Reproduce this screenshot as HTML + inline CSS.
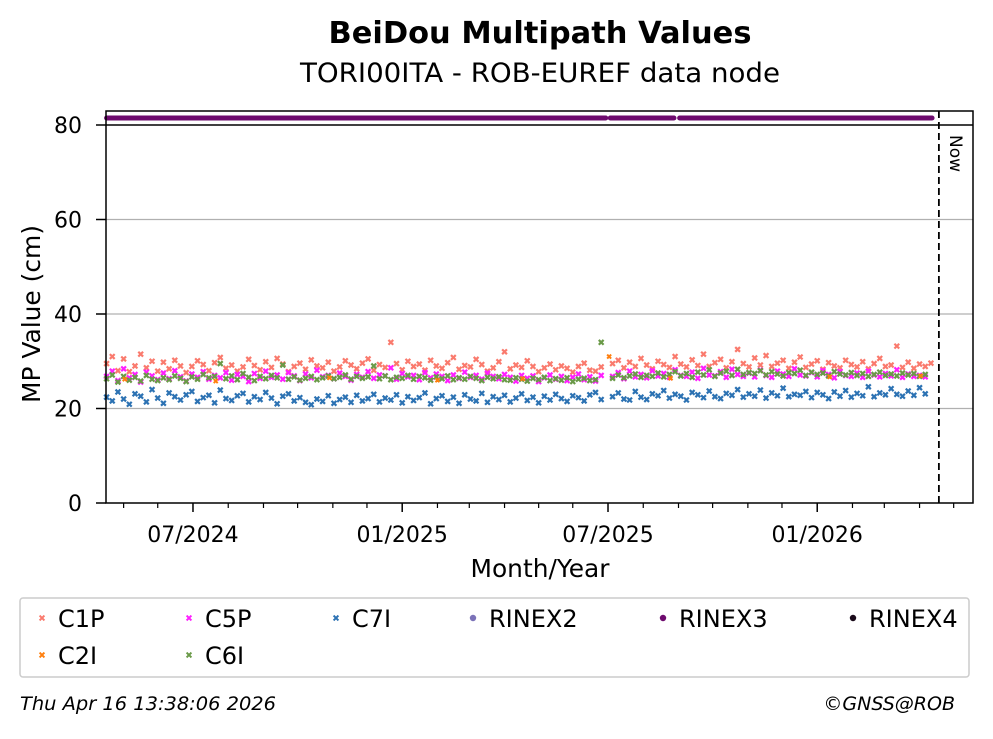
<!DOCTYPE html>
<html><head><meta charset="utf-8"><style>
body{margin:0;background:#fff;font-family:"Liberation Sans","DejaVu Sans",sans-serif}
svg text{font-family:"DejaVu Sans","Liberation Sans",sans-serif}
</style></head><body>
<svg id="chart" width="993" height="734" viewBox="0 0 993 734" xmlns="http://www.w3.org/2000/svg">
<rect width="993" height="734" fill="#fff"/>
<text x="540" y="43" text-anchor="middle" font-size="30" font-weight="bold" textLength="423" lengthAdjust="spacingAndGlyphs">BeiDou Multipath Values</text>
<text x="540" y="82" text-anchor="middle" font-size="27" textLength="480" lengthAdjust="spacingAndGlyphs">TORI00ITA - ROB-EUREF data node</text>
<g id="grid"></g>
<g id="marks"></g>
<rect x="106" y="111" width="867" height="392" fill="none" stroke="#000" stroke-width="1.5"/>
<line x1="106" y1="125" x2="973" y2="125" stroke="#000" stroke-width="1.5"/>
<g id="axes"></g>
<text transform="translate(40,314) rotate(-90)" text-anchor="middle" font-size="25" textLength="178" lengthAdjust="spacingAndGlyphs">MP Value (cm)</text>
<text x="540" y="577" text-anchor="middle" font-size="25" textLength="139" lengthAdjust="spacingAndGlyphs">Month/Year</text>
<rect x="20" y="598" width="949" height="79" rx="3" fill="#fff" stroke="#ccc" stroke-width="1.5"/>
<g id="legend"></g>
<text x="20" y="710" font-size="19" font-style="italic" textLength="256" lengthAdjust="spacingAndGlyphs">Thu Apr 16 13:38:06 2026</text>
<text x="955" y="710" text-anchor="end" font-size="19" font-style="italic">©GNSS@ROB</text>
</svg>
<script>
// days relative to 2024-07-01; first sample at startDay, then every stepDays
const startDay = -76;
const stepDays = 5;
const c1p = [29.5,31,28,30.5,27.8,29,31.5,28.6,30,27.9,29.8,28.4,30.2,29,27.6,28.9,30.1,29.3,28,29.7,30.8,28.5,29.2,27.9,28.8,30.4,29.1,28.2,29.9,28.7,30.6,29.4,27.8,28.9,29.6,28.3,30.3,29,28.6,29.8,27.9,28.8,30.1,29.2,28.4,29.6,30.5,28.1,29.3,28.7,34,29.5,28.2,30,28.9,29.4,28.1,30.2,29,28.5,29.7,30.8,28.3,29.1,28.8,30.4,29.3,27.9,28.6,29.9,32,28.4,29.2,28.7,30.1,28.9,27.8,28.6,29.4,28.2,29,28.5,27.7,28.9,29.6,28.1,27.9,28.8,null,29.5,30.2,28.6,29.8,28.9,30.6,29.2,28.4,30,29.3,28.7,31,29.4,28.8,30.3,29.1,31.5,28.9,29.7,30.4,28.6,29.9,32.5,29.5,28.8,30.7,29.2,31.2,28.9,29.6,30.2,28.5,29.8,30.9,28.7,29.4,30.1,28.3,29.7,29,28.6,30.2,29.3,28.8,29.9,28.4,29.5,30.6,28.9,29.2,33.2,28.7,29.8,28.5,29.4,28.9,29.6];
const c5p = [26.8,27.9,25.9,28.4,26.5,27.2,25.6,27.7,26.9,26.1,27.5,26.3,28,26.7,25.8,27.3,26.6,27.8,26.2,27,26.5,27.6,26,27.2,26.8,25.7,27.4,26.4,27.9,26.6,27.1,26.2,27.6,26.9,25.9,27.3,26.5,28.1,26.7,27,26.3,27.5,26.8,26,27.2,26.6,27.8,26.4,27.1,26.9,28.6,26.2,27.4,26.7,27,26.1,27.6,26.5,27.3,26.8,25.9,27.1,26.4,27.7,26.6,27,26.2,27.5,26.8,26.3,27.2,26.6,25.8,27,26.4,26.9,25.7,26.5,27.1,26.2,26.8,25.9,26.6,27.3,26.1,26.7,25.8,27,null,26.8,27.6,26.3,27.9,26.7,27.2,26.5,28,26.9,27.4,26.6,28.2,27,26.8,27.7,26.4,28.5,27.1,26.9,27.8,26.6,28.3,27.2,26.8,27.5,26.7,28.1,27,26.6,27.9,27.3,26.8,28.4,27.1,26.9,27.6,26.7,28,27.2,26.5,27.8,27,26.8,27.5,26.6,27.9,27.1,26.7,27.4,26.9,28.2,26.6,27.3,26.8,27,26.7];
const c7i = [22.4,21.6,23.5,22,20.9,23.1,22.6,21.4,24,22.2,21.1,23.3,22.5,21.8,22.9,23.6,21.5,22.3,22.8,21.2,23.9,22.1,21.7,22.7,23.2,21.4,22.5,21.9,23.4,22.2,21,22.6,23.1,21.6,22.3,21.3,20.8,22,21.5,22.7,21.1,21.9,22.4,21.3,22.8,21.6,22.1,23,21.4,22.2,21.8,22.9,21.2,22.5,21.7,22.3,23.3,21,22.1,22.7,21.5,22.4,21.1,22.9,22,21.6,23.2,21.3,22.5,21.9,22.8,21.4,22.2,23.1,21.7,22.4,21.2,22.6,21.8,23,22.1,21.5,22.7,22.3,21.6,22.9,23.4,21.9,null,22.5,23.3,22,21.8,23.6,22.4,21.9,23.1,22.7,23.8,22.2,23,22.6,21.8,23.4,22.9,22.3,23.7,22.5,22.1,23.2,22.8,24,22.4,23.1,22.6,23.9,22.2,23.3,22.7,24.3,22.5,23,22.8,23.6,22.3,23.4,22.9,22.1,23.5,22.6,23.8,22.4,23.2,22.7,24.6,22.5,23.3,22.9,24.2,23,22.6,23.7,22.8,24.4,23.1];
const c6i = [26.3,27.1,25.6,26.8,26,26.6,25.8,27,26.2,25.9,26.5,26.1,26.9,26.4,25.7,26.7,26.2,27.2,26.5,26.8,29.5,26.3,26.9,26.1,27.4,26.6,25.9,26.8,26.3,27,26.5,29.2,26.2,26.7,26,26.4,26.8,26.1,26.5,26.9,26.3,26.6,27.1,26.2,26.8,26.4,26.7,29,26.3,26.9,26.1,26.6,26.4,27,26.2,26.8,26.5,26,26.7,26.3,26.9,26.1,26.5,26.2,26.8,26.4,25.9,26.6,26.3,26.7,26.1,26,26.5,26.2,25.8,26.4,26.1,26.6,25.9,26.3,26,26.5,25.7,26.2,26.4,25.9,26.1,34,null,26.4,27.1,26.5,26.9,27.3,26.6,27,26.8,27.5,26.7,27.2,27.8,26.9,27.4,26.6,27.7,27.1,28.2,26.8,27.5,27.9,27,28.3,27.2,27.6,27.4,28,27.1,27.8,27.3,26.9,27.6,27.4,28.1,27,27.7,27.2,27.5,26.9,27.8,27.3,27.1,27.6,27,27.4,26.8,27.2,27.7,27,27.3,26.9,27.5,27.1,27.4,26.8,27.2];
const c2iDays = [-60,20,120,215,290,366,420,560,640];
const c2iVals = [26.2,25.8,26.5,26,26.3,31,26.4,26.7,26.9];
const rinex3Ranges = [[-76,363],[367,423],[428,650]];
const yTicks = [0,20,40,60,80];
const xTickDays = [0,184,365,549];
const xTickLabels = ["07/2024","01/2025","07/2025","01/2026"];
const minorTickDays = [-61,-31,31,62,92,123,153,215,243,274,304,334,396,427,457,488,518,580,608,639,669];
const nowDay = 656;

const X0=106,X1=973,D0=-76.5,D1=686;
function xs(d){return X0+(d-D0)*(X1-X0)/(D1-D0);}
function ys(v){return 503-v*(503-125)/80;}
const NS="http://www.w3.org/2000/svg";
function mk(tag,attrs,parent){const e=document.createElementNS(NS,tag);for(const k in attrs)e.setAttribute(k,attrs[k]);parent.appendChild(e);return e;}
const grid=document.getElementById('grid'),marks=document.getElementById('marks'),axes=document.getElementById('axes'),legend=document.getElementById('legend');

yTicks.forEach(v=>{
  if(v>0&&v<80){const g=mk('line',{x1:X0,x2:X1,y1:ys(v),y2:ys(v),stroke:'#b0b0b0','stroke-width':1.2},grid);
  
  }
  const t=mk('line',{x1:X0-10,x2:X0,y1:ys(v),y2:ys(v),stroke:'#000','stroke-width':1.5},axes);
  
  
  const l=mk('text',{x:X0-24,y:ys(v)+8,'text-anchor':'end','font-size':22},axes);
  
  
  l.textContent=v;
});
xTickDays.forEach((d,i)=>{
  const t=mk('line',{x1:xs(d),x2:xs(d),y1:503,y2:512,stroke:'#000','stroke-width':1.5},axes);
  
  
  const l=mk('text',{x:xs(d),y:542,'text-anchor':'middle','font-size':22},axes);
  
  
  l.textContent=xTickLabels[i];
});
minorTickDays.forEach(d=>{
  const t=mk('line',{x1:xs(d),x2:xs(d),y1:503,y2:508,stroke:'#000','stroke-width':1.2},axes);
  
  
});

function cross(x,y,c,g,s,w){
  const p=mk('path',{d:`M${x-s},${y-s}L${x+s},${y+s}M${x-s},${y+s}L${x+s},${y-s}`,stroke:c,'stroke-width':w||2},g);
  return p;
}
const series=[['c1p',c1p,'#fa7a6d'],['c5p',c5p,'#ff1fff'],['c7i',c7i,'#2c72b3'],['c6i',c6i,'#6a9a48']];
series.forEach(([nm,arr,col])=>{
  const g=mk('g',{},marks);
  
  
  arr.forEach((v,i)=>{
    if(v===null)return;
    const d=startDay+i*stepDays;
    const p=cross(xs(d),ys(v),col,g,2.4,2.2);
    
    
  });
});
const g2=mk('g',{},marks);


c2iDays.forEach((d,i)=>{
  const p=cross(xs(d),ys(c2iVals[i]),'#ff7f0e',g2,2,2);
  
  
});
rinex3Ranges.forEach(r=>{
  const l=mk('line',{x1:xs(r[0]),x2:xs(r[1]),y1:118,y2:118,stroke:'#6e0b6e','stroke-width':5,'stroke-linecap':'round'},marks);
  
  
});
const nl=mk('line',{x1:xs(nowDay),x2:xs(nowDay),y1:111,y2:503,stroke:'#000','stroke-width':1.8,'stroke-dasharray':'7,4'},marks);


const nt=mk('text',{transform:`translate(${xs(nowDay)+11},135) rotate(90)`,'font-size':17},marks);


nt.textContent='Now';

const legendItems=[['C1P','#fa7a6d','x',42,618],['C5P','#ff1fff','x',189,618],['C7I','#2c72b3','x',336,618],['RINEX2','#7b72b8','o',473,618],['RINEX3','#6e0b6e','o',663,618],['RINEX4','#1a0a1a','o',853,618],['C2I','#ff7f0e','x',42,655],['C6I','#6a9a48','x',189,655]];
legendItems.forEach(([lab,col,m,x,y])=>{
  const g=mk('g',{},legend);
  
  
  if(m==='x')cross(x,y,col,g,2.4,2);else mk('circle',{cx:x,cy:y,r:3.2,fill:col},g);
  const t=mk('text',{x:x+16,y:y+9,'font-size':24},g);
  t.textContent=lab;
});
</script>
</body></html>
